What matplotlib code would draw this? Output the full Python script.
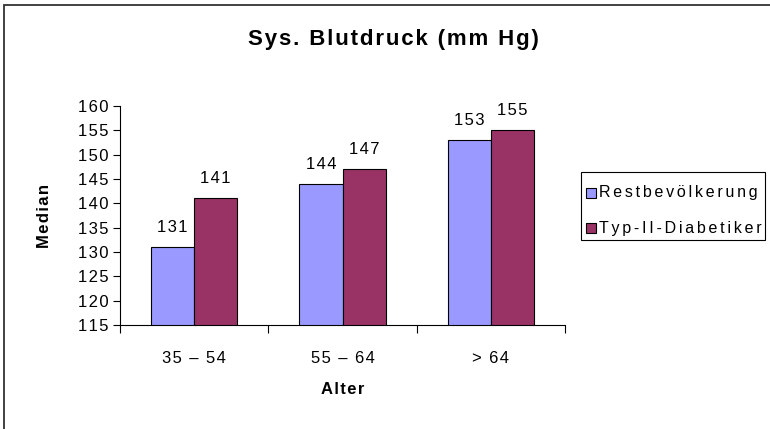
import numpy as np
import matplotlib.pyplot as plt
from matplotlib.patches import Rectangle

plt.rcParams['font.family'] = ['Liberation Sans', 'DejaVu Sans']

altersgruppen = ['35 – 54', '55 – 64', '> 64']
restbevoelkerung = [131, 144, 153]
diabetiker = [141, 147, 155]
serien = ['Restbevölkerung', 'Typ-II-Diabetiker']
farben = ['#9999FF', '#993366']
y_ticks = np.arange(115, 161, 5)

W, H = 770, 429


def gesperrt(s, abstand='\u200a'):
    # Buchstaben etwas auseinanderziehen
    return abstand.join(s)


def fx(px):
    return px / W


def fy(py):
    return 1 - py / H


fig = plt.figure(figsize=(W / 100, H / 100), dpi=100)

# Rahmen um das ganze Diagramm
fig.patches.append(Rectangle((fx(4), -0.1), 1.2, fy(5) + 0.1,
                             transform=fig.transFigure, fill=False,
                             edgecolor='#333333', linewidth=1.3))

ax = fig.add_axes([fx(120), fy(325), 445 / W, 219 / H])

x = np.arange(len(altersgruppen))
b = 0.29
b1 = ax.bar(x - b / 2, restbevoelkerung, b, color=farben[0],
            edgecolor='black', linewidth=0.8)
b2 = ax.bar(x + b / 2, diabetiker, b, color=farben[1],
            edgecolor='black', linewidth=0.8)

for rects, werte in [(b1, restbevoelkerung), (b2, diabetiker)]:
    for r, w in zip(rects, werte):
        ax.text(r.get_x() + r.get_width() / 2, w + 2.5, gesperrt(str(w)),
                ha='center', va='bottom', fontsize=12)

ax.set_xlim(-0.5, 2.5)
ax.set_ylim(115, 160)
ax.set_yticks(y_ticks)
ax.set_yticklabels([gesperrt(str(t)) for t in y_ticks])
ax.tick_params(axis='y', direction='out', length=5, labelsize=12, pad=3)

# Striche zwischen den Gruppen, Beschriftung in der Mitte
ax.set_xticks([-0.5, 0.5, 1.5, 2.5])
ax.set_xticklabels([])
ax.tick_params(axis='x', which='major', direction='out', length=6)
ax.set_xticks(x, minor=True)
ax.set_xticklabels([gesperrt(a) for a in altersgruppen], minor=True, fontsize=12)
ax.tick_params(axis='x', which='minor', length=0, pad=19)

for s in ['top', 'right']:
    ax.spines[s].set_visible(False)
ax.spines['left'].set_linewidth(0.8)
ax.spines['bottom'].set_linewidth(0.8)

ax.set_ylabel(gesperrt('Median'), fontsize=12, fontweight='bold', labelpad=19)
ax.set_xlabel(gesperrt('Alter'), fontsize=12, fontweight='bold', labelpad=11)

fig.text(fx(393), fy(40), gesperrt('Sys. Blutdruck (mm Hg)'),
         ha='center', va='center', fontsize=16, fontweight='bold')

# Legende von Hand: Kasten, Farbfelder, Texte
fig.patches.append(Rectangle((fx(581), fy(240)), 184 / W, 68 / H,
                             transform=fig.transFigure, facecolor='white',
                             edgecolor='black', linewidth=0.8))
for i, (name, farbe) in enumerate(zip(serien, farben)):
    zy = 193 + 35 * i
    fig.patches.append(Rectangle((fx(586), fy(zy + 5)), 10 / W, 10 / H,
                                 transform=fig.transFigure, facecolor=farbe,
                                 edgecolor='black', linewidth=0.8))
    fig.text(fx(599), fy(zy), gesperrt(name, '\u200a\u200a'),
             ha='left', va='center', fontsize=11.5)

fig.savefig('out.png', dpi=100)
